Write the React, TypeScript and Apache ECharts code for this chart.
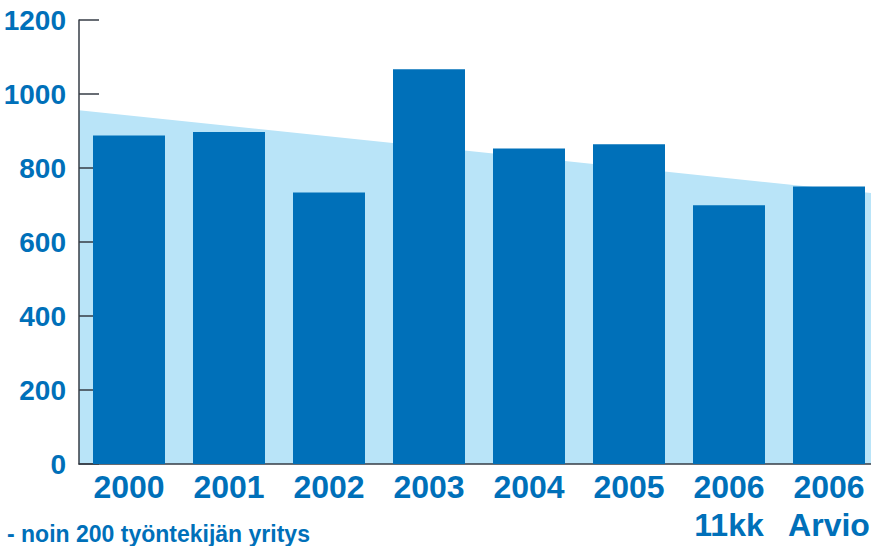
import React, { useEffect, useRef } from "react";
import * as echarts from "echarts";

const categories = ["2000", "2001", "2002", "2003", "2004", "2005", "2006\n11kk", "2006\nArvio"];
const barValues = [888, 897, 734, 1067, 853, 864, 699, 750];
const trendPoints = [[0, 956], [8, 730]];
const yTicks = { min: 0, max: 1200, interval: 200 };
const footnote = "- noin 200 työntekijän yritys";

const BLUE = "#0070b9";
const LIGHT = "#b9e4f8";
const AXIS = "#363c46";
const LABEL_FONT = "'Liberation Sans', Arial, sans-serif";

export default function App() {
  const ref = useRef<HTMLDivElement>(null);
  useEffect(() => {
    if (!ref.current) return;
    const chart = echarts.init(ref.current, undefined, { renderer: "svg" });
    chart.setOption({
      animation: false,
      backgroundColor: "#ffffff",
      grid: { left: 79, top: 20, width: 800, height: 444, containLabel: false, outerBoundsMode: "none" },
      xAxis: [
        {
          type: "category",
          data: categories,
          z: 2,
          boundaryGap: true,
          axisLine: { lineStyle: { color: AXIS, width: 1.5 } },
          axisTick: { inside: true, length: 10, alignWithLabel: false, lineStyle: { color: AXIS, width: 1.5 } },
          axisLabel: {
            color: BLUE,
            fontFamily: LABEL_FONT,
            fontWeight: "bold",
            fontSize: 32,
            lineHeight: 38,
            margin: 4,
            interval: 0,
          },
        },
        {
          type: "value",
          min: 0,
          max: 8,
          show: false,
        },
      ],
      yAxis: {
        type: "value",
        min: yTicks.min,
        max: yTicks.max,
        interval: yTicks.interval,
        z: 2,
        splitLine: { show: false },
        axisLine: { show: true, lineStyle: { color: AXIS, width: 1.5 } },
        axisTick: { show: true, inside: true, length: 20, lineStyle: { color: AXIS, width: 1.5 } },
        axisLabel: {
          color: BLUE,
          fontFamily: LABEL_FONT,
          fontWeight: "bold",
          fontSize: 28,
          margin: 13,
          formatter: (v: number) => String(v),
        },
      },
      series: [
        {
          type: "line",
          xAxisIndex: 1,
          data: trendPoints,
          symbol: "none",
          lineStyle: { width: 0, color: LIGHT },
          areaStyle: { color: LIGHT, opacity: 1 },
          z: 1,
          silent: true,
        },
        {
          type: "bar",
          xAxisIndex: 0,
          data: barValues,
          barWidth: 72,
          itemStyle: { color: BLUE },
          z: 3,
        },
      ],
      graphic: [
        {
          type: "text",
          left: 7,
          top: 522,
          style: {
            text: footnote,
            fill: BLUE,
            font: "bold 23px 'Liberation Sans', Arial, sans-serif",
          },
        },
      ],
    });
    return () => chart.dispose();
  }, []);
  return <div ref={ref} style={{ width: 871, height: 546, position: "absolute", left: 0, top: 0 }} />;
}
